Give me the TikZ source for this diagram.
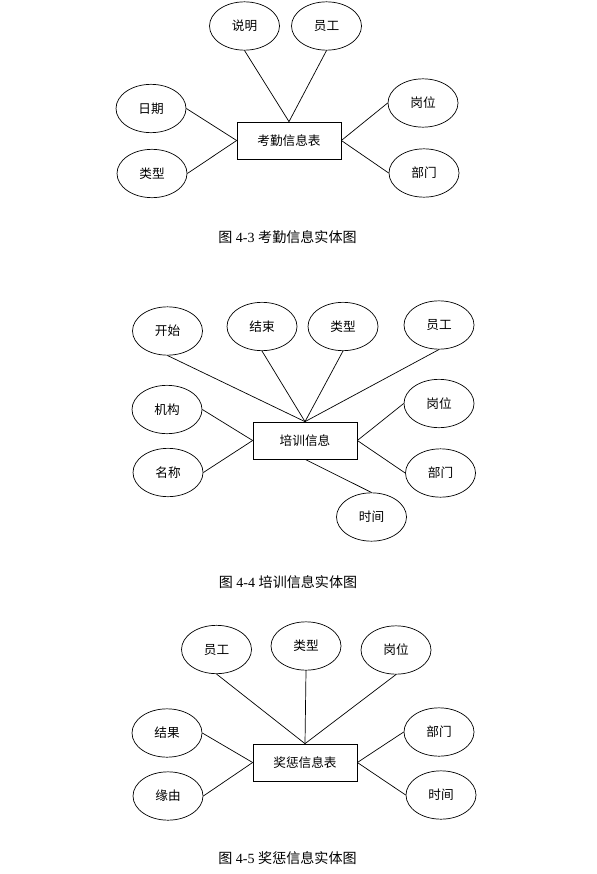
\documentclass[tikz,border=0pt]{standalone}
\usepackage{fontspec}
\setmainfont{Liberation Serif}
\newfontfamily\cjk{Noto Sans CJK SC}
\usetikzlibrary{shapes.geometric}
\tikzset{
    attr/.style={
        draw,ellipse,line width=.6pt,
        minimum width=2.1cm,minimum height=1.45cm,inner sep=0pt,
        font=\cjk\fontsize{10.8}{12}\selectfont
    },
    entity/.style={
        draw,rectangle,line width=.6pt,
        minimum width=3.12cm,minimum height=1.11cm,inner sep=0pt,
        font=\cjk\fontsize{10.8}{12}\selectfont
    },
    caption/.style={font=\fontsize{12}{14}\selectfont},
    link/.style={line width=.6pt},
}
\begin{document}
\begin{tikzpicture}[x=0.03cm,y=-0.03cm]
		\useasboundingbox (0,0) rectangle (597,874);

		% 4-3
		\node[entity] (kq) at (289,140.5) {考勤信息表};
		\foreach \name/\x/\y/\txt/\from/\to in {
			kqsm/244.5/26/说明/south/north, kqyg/326.5/26/员工/south/north,
			kqrq/151/108.5/日期/east/west, kqlx/152/173.5/类型/east/west,
			kqgw/423/103/岗位/west/east, kqbm/424/173/部门/west/east}
		{
			\node[attr] (\name) at (\x,\y) {\txt};
			\draw[link] (\name.\from) -- (kq.\to);
		}
		\node[caption] (cap1) at (287.5,237) {{\cjk 图} 4-3 {\cjk 考勤信息实体图}};

		% 4-4
		\node[entity] (px) at (305,440.5) {培训信息};
		\foreach \name/\x/\y/\txt/\from/\to in {
			pxks/167.5/331/开始/south/north, pxjs/262/326.5/结束/south/north,
			pxlx/343/326.5/类型/south/north, pxyg/439/325/员工/south/north,
			pxjg/167/409.5/机构/east/west, pxmc/168/472.5/名称/east/west,
			pxgw/439/403.5/岗位/west/east, pxbm/440.5/473/部门/west/east,
			pxsj/371.5/517/时间/north/south}
		{
			\node[attr] (\name) at (\x,\y) {\txt};
			\draw[link] (\name.\from) -- (px.\to);
		}
		\node[caption] (cap2) at (288,582) {{\cjk 图} 4-4 {\cjk 培训信息实体图}};

		% 4-5
		\node[entity] (jc) at (305,762.5) {奖惩信息表};
		\foreach \name/\x/\y/\txt/\from/\to in {
			jcyg/216.5/649.5/员工/south/north, jclx/306/646/类型/south/north,
			jcgw/396/650/岗位/south/north,
			jcjg/167/733/结果/east/west, jcyy/168/796/缘由/east/west,
			jcbm/439/732/部门/west/east, jcsj/441/795/时间/west/east}
		{
			\node[attr] (\name) at (\x,\y) {\txt};
			\draw[link] (\name.\from) -- (jc.\to);
		}
		\node[caption] (cap3) at (287.5,858) {{\cjk 图} 4-5 {\cjk 奖惩信息实体图}};
	\end{tikzpicture}
\end{document}
